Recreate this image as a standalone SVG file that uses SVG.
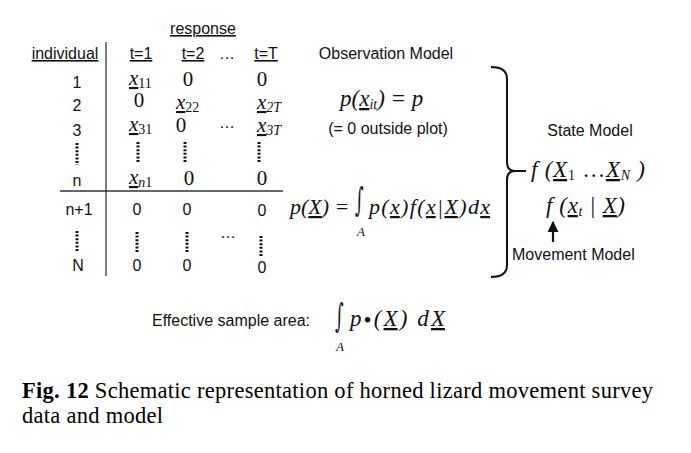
<svg xmlns="http://www.w3.org/2000/svg" width="691" height="453" viewBox="0 0 691 453">
<style>
.s{font-family:"Liberation Sans",Arial,sans-serif;font-size:16px;fill:#111}
.sc{font-family:"Liberation Sans",Arial,sans-serif;font-size:16px;fill:#111;text-anchor:middle}
.u{text-decoration:underline}
.r{font-family:"Liberation Serif","Times New Roman",serif;font-size:21px;fill:#111;text-anchor:middle}
.m{font-family:"Liberation Serif","Times New Roman",serif;font-style:italic;font-size:21px;fill:#111}
.big{font-size:23px}
.mid{font-size:22px}
.sub{font-size:14px}
.up{font-style:normal}
.int{font-family:"DejaVu Serif","Liberation Serif",serif;font-size:22px;fill:#111}
.dots{stroke:#111;stroke-width:3;stroke-dasharray:2 1.6;fill:none}
.rule{stroke:#333;stroke-width:1.3;fill:none}
.cap{font-family:"Liberation Serif","Times New Roman",serif;font-size:22.5px;fill:#000}
</style>
<defs>
<marker id="ah" viewBox="0 0 10 10" refX="9" refY="5" markerWidth="5" markerHeight="5" orient="auto"><path d="M0,0 L10,5 L0,10 z" fill="#111"/></marker>
</defs>

<g id="table">
<text class="sc" x="203" y="34"><tspan class="u">response</tspan></text>
<text class="sc" x="65" y="59"><tspan class="u">individual</tspan></text>
<text class="sc" x="141" y="59"><tspan class="u">t=1</tspan></text>
<text class="sc" x="193" y="59"><tspan class="u">t=2</tspan></text>
<text class="sc" x="227" y="59">…</text>
<text class="sc" x="266" y="59"><tspan class="u">t=T</tspan></text>
<line class="rule" x1="106" y1="42" x2="106" y2="276"/>
<line class="rule" x1="60" y1="191" x2="283" y2="191"/>
<!-- row labels -->
<text class="sc" x="77" y="88">1</text>
<text class="sc" x="77" y="111">2</text>
<text class="sc" x="77" y="136">3</text>
<text class="sc" x="77" y="186">n</text>
<text class="sc" x="79" y="215">n+1</text>
<text class="sc" x="78" y="271">N</text>
<line class="dots" x1="77" y1="143" x2="77" y2="165"/>
<line class="dots" x1="77" y1="231" x2="77" y2="252"/>
<!-- row 1 -->
<text class="m" x="129" y="85"><tspan class="u">x</tspan><tspan class="sub up" dy="3">11</tspan></text>
<text class="r" x="188" y="86">0</text>
<text class="r" x="262" y="86">0</text>
<!-- row 2 -->
<text class="r" x="139" y="107">0</text>
<text class="m" x="176" y="109"><tspan class="u">x</tspan><tspan class="sub up" dy="3">22</tspan></text>
<text class="m" x="257" y="109"><tspan class="u">x</tspan><tspan class="sub" dy="3">2T</tspan></text>
<!-- row 3 -->
<text class="m" x="129" y="131"><tspan class="u">x</tspan><tspan class="sub up" dy="3">31</tspan></text>
<text class="r" x="181" y="132">0</text>
<text class="sc" x="227" y="128">…</text>
<text class="m" x="257" y="132"><tspan class="u">x</tspan><tspan class="sub" dy="3">3T</tspan></text>
<line class="dots" x1="138" y1="142" x2="138" y2="162"/>
<line class="dots" x1="185" y1="142" x2="185" y2="162"/>
<line class="dots" x1="259" y1="142" x2="259" y2="162"/>
<!-- row n -->
<text class="m" x="129" y="184"><tspan class="u">x</tspan><tspan class="sub" dy="3">n</tspan><tspan class="sub up">1</tspan></text>
<text class="r" x="189" y="185">0</text>
<text class="r" x="262" y="185">0</text>
<!-- rows n+1 .. N -->
<text class="sc" x="137" y="215">0</text>
<text class="sc" x="187" y="215">0</text>
<text class="sc" x="262" y="216">0</text>
<line class="dots" x1="137" y1="232" x2="137" y2="252"/>
<line class="dots" x1="187" y1="232" x2="187" y2="252"/>
<text class="sc" x="228" y="238">…</text>
<line class="dots" x1="261" y1="236" x2="261" y2="256"/>
<text class="sc" x="137" y="271">0</text>
<text class="sc" x="187" y="271">0</text>
<text class="sc" x="262" y="273">0</text>
</g>

<g id="observation-model">
<text class="sc" x="386" y="59">Observation Model</text>
<text class="m big" x="340" y="106">p(<tspan class="u">x</tspan><tspan class="sub" dy="3">it</tspan><tspan dy="-3">) = </tspan>p</text>
<text class="sc" x="388" y="134">(= 0 outside plot)</text>
</g>

<g id="detection-integral">
<text class="m mid" x="290" y="214">p(<tspan class="u">X</tspan>) =</text>
<text class="int" transform="translate(355,211) scale(0.75,1.5)">∫</text>
<text class="m" x="357" y="236" style="font-size:13px">A</text>
<text class="m mid" x="369" y="214" textLength="121" lengthAdjust="spacing">p(<tspan class="u">x</tspan>)f(<tspan class="u">x</tspan>|<tspan class="u">X</tspan>)d<tspan class="u">x</tspan></text>
</g>

<g id="state-model">
<text class="sc" x="590" y="136">State Model</text>
<text class="m big" x="531" y="177" textLength="114" lengthAdjust="spacing">f (<tspan class="u">X</tspan><tspan class="sub up" dy="3">1</tspan><tspan dy="-3" class="up"> …</tspan><tspan class="u">X</tspan><tspan class="sub" dy="3">N</tspan><tspan dy="-3"> )</tspan></text>
</g>

<g id="movement-model">
<text class="m big" x="546" y="213" textLength="79" lengthAdjust="spacing">f (<tspan class="u">x</tspan><tspan class="sub" dy="3">t</tspan><tspan dy="-3"> | </tspan><tspan class="u">X</tspan>)</text>
<text class="s" x="512" y="260">Movement Model</text>
</g>

<g id="effective-area">
<text class="s" x="152" y="326">Effective sample area:</text>
<text class="int" transform="translate(335,327) scale(0.75,1.5)">∫</text>
<text class="m" x="336" y="351" style="font-size:13px">A</text>
<text class="m big" x="350" y="326" textLength="95" lengthAdjust="spacing">p<tspan class="up" dy="2">•</tspan><tspan dy="-2">(</tspan><tspan class="u">X</tspan>) d<tspan class="u">X</tspan></text>
</g>

<g id="connectors">
<path d="M491,67 Q507,67 507,79 L507,162 Q507,171 515,171 L526,171 M515,171 Q507,171 507,180 L507,265 Q507,277 491,277" fill="none" stroke="#111" stroke-width="2"/>
<line x1="553" y1="242" x2="553" y2="222" stroke="#111" stroke-width="2.2" marker-end="url(#ah)"/>
</g>

<g id="caption">
<text class="cap" x="22" y="398" textLength="631" lengthAdjust="spacing"><tspan font-weight="bold">Fig. 12</tspan>  Schematic representation of horned lizard movement survey</text>
<text class="cap" x="22" y="423" textLength="141" lengthAdjust="spacing">data and model</text>
</g>
</svg>
